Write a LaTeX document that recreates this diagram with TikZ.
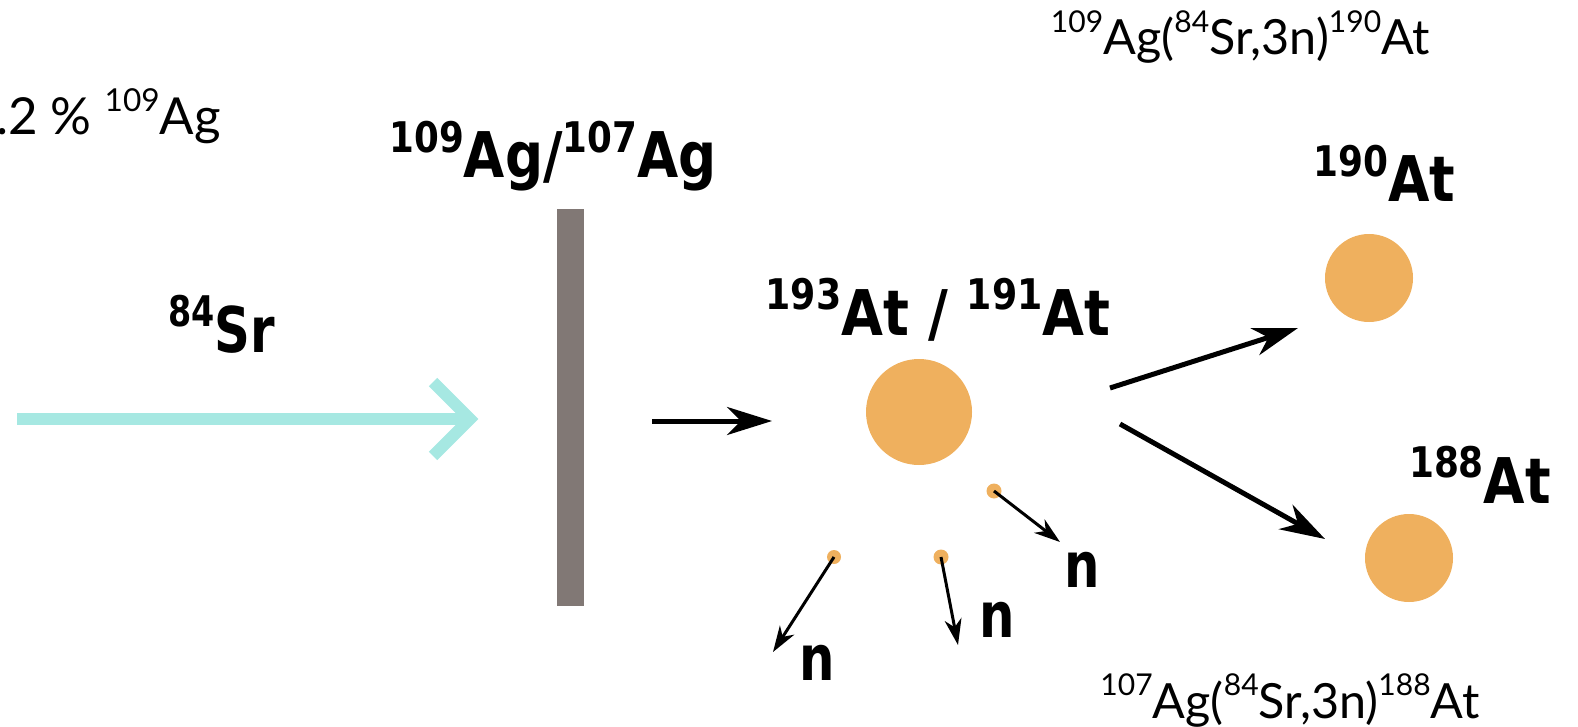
\documentclass[tikz,border=0pt]{standalone}
\usepackage{fontspec}
\usepackage{graphicx}
\setmainfont{Lato}
\newfontfamily\boldfam{DejaVu Sans}
\usetikzlibrary{arrows.meta}
\definecolor{nucl}{HTML}{EFB05E}
\definecolor{beamc}{HTML}{A6E8E2}
\definecolor{targ}{HTML}{817875}
\newcommand\supl[1]{\raisebox{0.46em}{\scalebox{0.62}{#1}}}
\newcommand\supb[1]{\raisebox{0.40em}{\scalebox{0.67}{#1}}}
\newcommand\nx[2]{\scalebox{#1}[1]{#2}}
\begin{document}
\begin{tikzpicture}[x=1pt,y=-1pt,
  lbl/.style={inner sep=0pt, anchor=base, font=\fontsize{48.5}{52}\selectfont},
  blbl/.style={inner sep=0pt, anchor=base, font=\boldfam\bfseries\fontsize{63}{70}\selectfont},
  nuc/.style={circle, fill=nucl, inner sep=0pt},
  arr/.style={line width=5pt, -{Stealth[length=45pt, width=28pt, inset=14pt]}},
  narr/.style={line width=3pt, -{Stealth[length=26pt, width=17pt, inset=8pt]}},
  beam/.style={line width=12pt, draw=beamc}]
\useasboundingbox (0,0) rectangle (1578,727);

% beam
\coordinate (bs) at (17,419);
\coordinate (bt) at (470,419);
\draw[beam] (bs) -- (bt);
\draw[beam, line join=miter] (bt) ++(-37,-37) -- (bt) -- ++(-37,37);

% target
\node[fill=targ, inner sep=0pt, minimum width=27pt, minimum height=397pt] (target) at (570.5,407.5) {};

% nuclei
\node[nuc, minimum size=106pt] (cn) at (919,412) {};
\node[nuc, minimum size=88pt] (a190) at (1369,278) {};
\node[nuc, minimum size=88pt] (a188) at (1409,558) {};
\node[nuc, minimum size=15pt] (d1) at (994,491) {};
\node[nuc, minimum size=15pt] (d2) at (941,557) {};
\node[nuc, minimum size=14pt] (d3) at (834,557) {};

% arrows
\coordinate (h1) at (652,421);
\coordinate (h2) at (772,421);
\draw[arr] (h1) -- (h2);
\coordinate (u1) at (1110,388);
\coordinate (u2) at (1298,328);
\draw[arr] (u1) -- (u2);
\coordinate (w1) at (1120,424);
\coordinate (w2) at (1325,539);
\draw[arr] (w1) -- (w2);
\coordinate (t1) at (1060,542);
\coordinate (t2) at (958,645);
\coordinate (t3) at (773,652);
\draw[narr] (d1.center) -- (t1);
\draw[narr] (d2.center) -- (t2);
\draw[narr] (d3.center) -- (t3);

% labels
\node[lbl] (r1) at (1240.5,55) {\supl{109}Ag(\supl{84}Sr,3n)\supl{190}At};
\node[lbl] (r2) at (1290,718) {\supl{107}Ag(\supl{84}Sr,3n)\supl{188}At};
\node[lbl, font=\fontsize{51}{55}\selectfont, anchor=base east] (ab) at (221,135) {48.2 \% \supl{109}Ag};
\node[blbl] (tl) at (553,178) {\nx{0.845}{\supb{109}Ag/\supb{107}Ag}};
\node[blbl] (cl) at (938,335) {\nx{0.86}{\supb{193}At / \supb{191}At}};
\node[blbl] (l190) at (1384.5,202) {\nx{0.85}{\supb{190}At}};
\node[blbl] (l188) at (1480,503) {\nx{0.85}{\supb{188}At}};
\node[blbl] (sr) at (221.5,352) {\nx{0.79}{\supb{84}Sr}};
\node[blbl] (n1) at (1082,587) {\nx{0.79}{n}};
\node[blbl] (n2) at (997,637) {\nx{0.79}{n}};
\node[blbl] (n3) at (817,680) {\nx{0.79}{n}};
\end{tikzpicture}
\end{document}
